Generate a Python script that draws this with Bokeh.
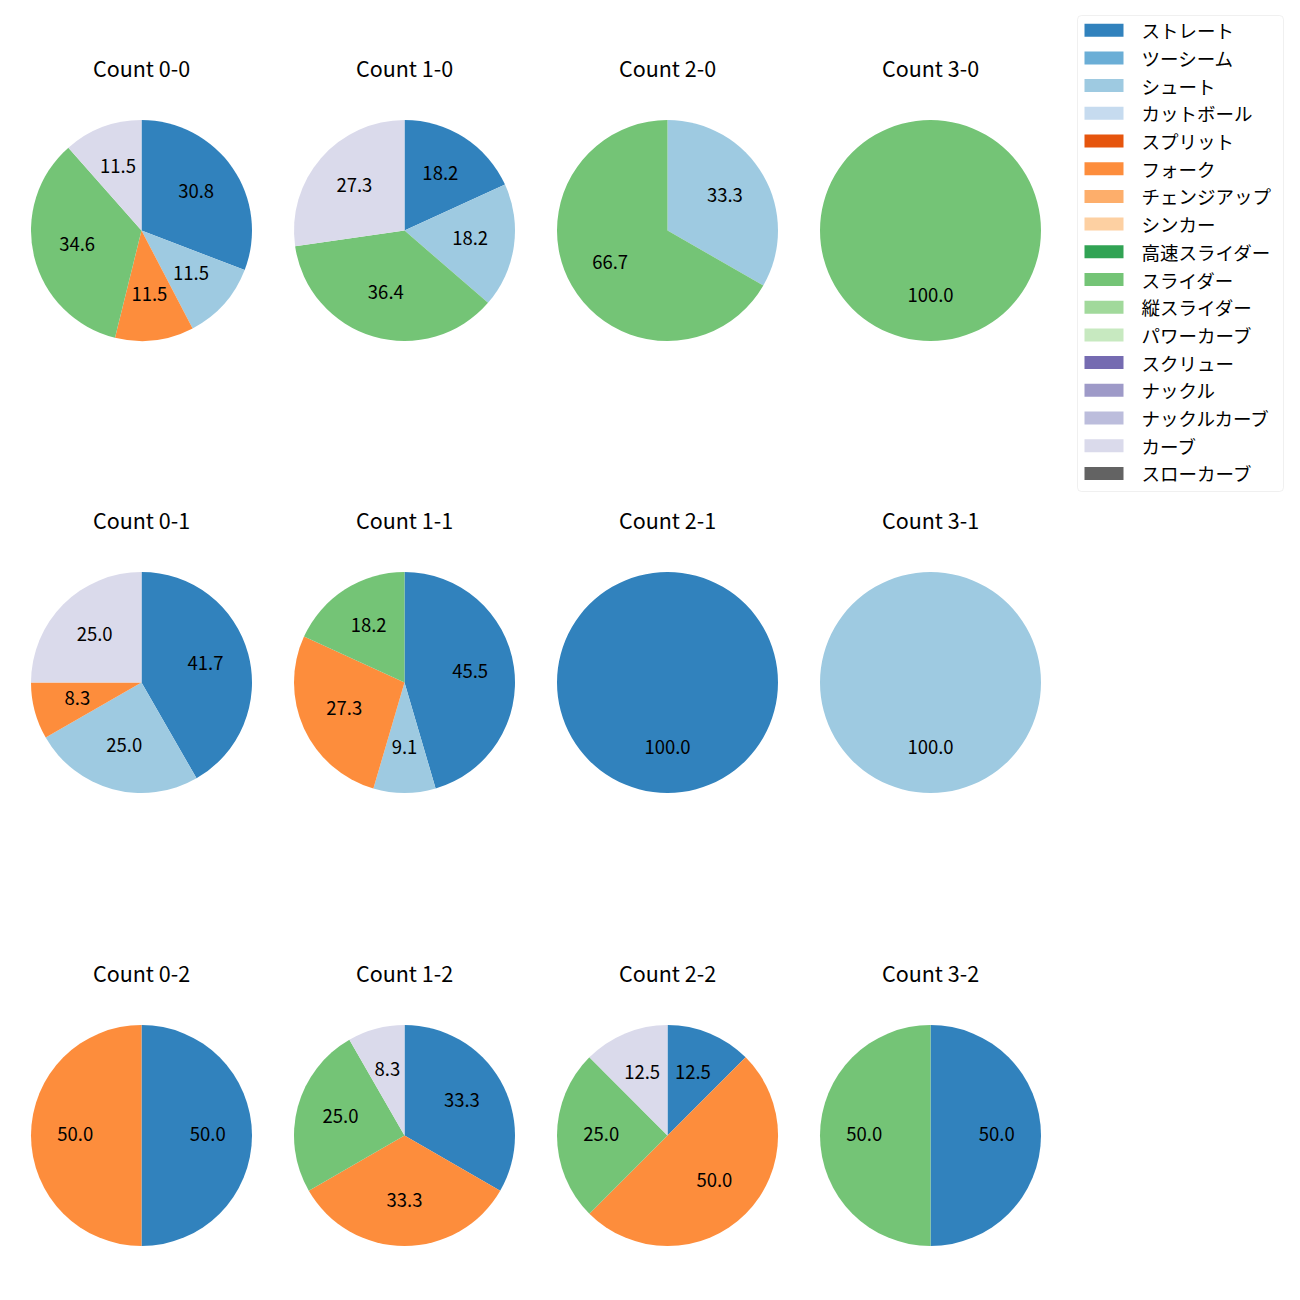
import math
from bokeh.plotting import figure
from bokeh.models import ColumnDataSource, Range1d, BoxAnnotation
from bokeh.core.properties import value
from bokeh.embed import file_html
from bokeh.resources import INLINE

# ---------------- data ----------------
count_labels = ["0-0", "1-0", "2-0", "3-0",
                "0-1", "1-1", "2-1", "3-1",
                "0-2", "1-2", "2-2", "3-2"]

pitch_types = ["ストレート", "ツーシーム", "シュート", "カットボール", "スプリット",
               "フォーク", "チェンジアップ", "シンカー", "高速スライダー", "スライダー",
               "縦スライダー", "パワーカーブ", "スクリュー", "ナックル", "ナックルカーブ",
               "カーブ", "スローカーブ"]
pitch_colors = ["#3182bd", "#6baed6", "#9ecae1", "#c6dbef", "#e6550d",
                "#fd8d3c", "#fdae6b", "#fdd0a2", "#31a354", "#74c476",
                "#a1d99b", "#c7e9c0", "#756bb1", "#9e9ac8", "#bcbddc",
                "#dadaeb", "#636363"]

# share (%) of each pitch type in each count (order of count_labels)
straight = [30.8, 18.2, 0, 0, 41.7, 45.5, 100.0, 0, 50.0, 33.3, 12.5, 50.0]
shoot = [11.5, 18.2, 33.3, 0, 25.0, 9.1, 0, 100.0, 0, 0, 0, 0]
fork = [11.5, 0, 0, 0, 8.3, 27.3, 0, 0, 50.0, 33.3, 50.0, 0]
slider = [34.6, 36.4, 66.7, 100.0, 0, 18.2, 0, 0, 0, 25.0, 25.0, 50.0]
curve = [11.5, 27.3, 0, 0, 25.0, 0, 0, 0, 0, 8.3, 12.5, 0]

series = {"ストレート": straight, "シュート": shoot, "フォーク": fork,
          "スライダー": slider, "カーブ": curve}

# ---------------- layout (page pixels) ----------------
PAGE = 1300
col_x = [141, 404, 667, 930]
row_y = [230, 682, 1135]
R = 110.5
TITLE_OFF = 163
LABEL_LIFT = 2
FONT = "Noto Sans CJK JP"

p = figure(width=1284, height=1284, x_range=Range1d(0, 1284), y_range=Range1d(16, 1300),
           min_border=0, toolbar_location=None, output_backend="svg",
           x_axis_location=None, y_axis_location=None)
p.grid.visible = False
p.outline_line_color = None
p.background_fill_color = "white"


def centre(i):
    col = i % 4
    row = i // 4
    return col_x[col], PAGE - row_y[row]


totals = []
for i in range(len(count_labels)):
    totals.append(sum(series[t][i] for t in series))

# wedges (clockwise from 12 o'clock)
cum = [0.0] * len(count_labels)
lab_x, lab_y, lab_t = [], [], []
for t, c in zip(pitch_types, pitch_colors):
    if t not in series:
        continue
    vals = series[t]
    xs, ys, st, en = [], [], [], []
    for i, v in enumerate(vals):
        if v <= 0:
            continue
        cx, cy = centre(i)
        a0 = 90.0 - 360.0 * cum[i] / totals[i]
        a1 = 90.0 - 360.0 * (cum[i] + v) / totals[i]
        cum[i] += v
        mid = math.radians((a0 + a1) / 2.0)
        if a0 - a1 > 359.999:  # full circle: tiny gap so the SVG arc is not degenerate
            a1 = a0 - 359.999
        xs.append(cx)
        ys.append(cy)
        st.append(math.radians(a1))
        en.append(math.radians(a0))
        lab_x.append(cx + 0.6 * R * math.cos(mid))
        lab_y.append(cy + 0.6 * R * math.sin(mid) + LABEL_LIFT)
        lab_t.append(f"{v:.1f}")
    src = ColumnDataSource(dict(x=xs, y=ys, start=st, end=en))
    p.wedge(x="x", y="y", radius=R, start_angle="start", end_angle="end",
            source=src, fill_color=c, line_color=None)

# percentage labels
p.text(x=lab_x, y=lab_y, text=lab_t, text_font=value(FONT), text_font_size="18.5px",
       text_align="center", text_baseline="middle", text_color="black")

# titles
tx, ty, tt = [], [], []
for i, lab in enumerate(count_labels):
    cx, cy = centre(i)
    tx.append(cx)
    ty.append(cy + TITLE_OFF)
    tt.append(f"Count {lab}")
p.text(x=tx, y=ty, text=tt, text_font=value(FONT), text_font_size="21.5px",
       text_align="center", text_baseline="middle", text_color="black")

# legend
box = BoxAnnotation(left=1077, right=1283, top=PAGE - 15, bottom=PAGE - 491,
                    fill_color="white", fill_alpha=1.0, line_color="#cccccc",
                    line_width=1, border_radius=4, level="underlay")
p.add_layout(box)
ly = [PAGE - (29.7 + 27.7 * k) for k in range(len(pitch_types))]
p.rect(x=[1103.5] * len(pitch_types), y=ly, width=39, height=13,
       fill_color=pitch_colors, line_color=None)
p.text(x=[1141] * len(pitch_types), y=ly, text=pitch_types, text_font=value(FONT),
       text_font_size="18.5px", text_align="left", text_baseline="middle",
       text_color="black")

open("out.html", "w").write(file_html(p, INLINE))
